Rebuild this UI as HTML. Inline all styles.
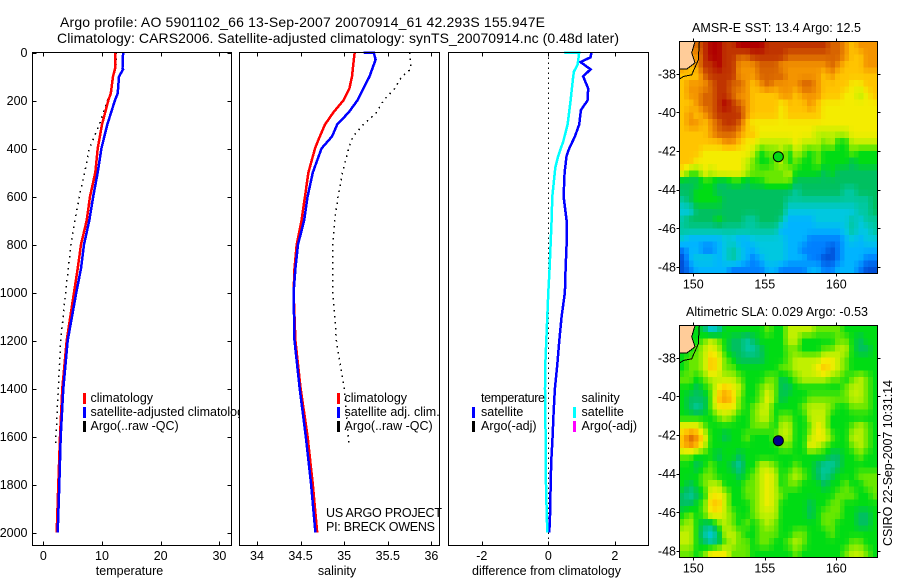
<!DOCTYPE html>
<html>
<head>
<meta charset="utf-8">
<title>Argo profile</title>
<style>
html,body{margin:0;padding:0;background:#fff;width:900px;height:580px;overflow:hidden}
svg{display:block}
text{font-family:"Liberation Sans",sans-serif;font-size:12.5px;fill:#000}
</style>
</head>
<body>
<svg id="chart" xmlns="http://www.w3.org/2000/svg" width="900" height="580" viewBox="0 0 900 580">
  <defs>
    <clipPath id="clip-legend-1"><rect x="32" y="380" width="207" height="60"/></clipPath>
    <clipPath id="clip-map"><rect x="680" y="42" width="198" height="232"/></clipPath>
    <clipPath id="clip-map-2"><rect x="680" y="326" width="198" height="232"/></clipPath>
  </defs>
  <rect x="0" y="0" width="900" height="580" fill="#fff"/>
  <text x="60" y="27" style="font-size:14px" textLength="485" lengthAdjust="spacing">Argo profile: AO 5901102_66 13-Sep-2007 20070914_61 42.293S 155.947E</text>
  <text x="57" y="43" style="font-size:14px" textLength="562" lengthAdjust="spacing">Climatology: CARS2006. Satellite-adjusted climatology: synTS_20070914.nc (0.48d later)</text>

  <g id="profile-layer"></g>
  <g id="map-layer"></g>

  <g>
    <rect x="83" y="393" width="3" height="11" fill="#ff0000"/>
    <rect x="83" y="407" width="3" height="11" fill="#0000ff"/>
    <rect x="83" y="421" width="3" height="11" fill="#000"/>
    <text x="90.5" y="402">climatology</text>
    <text clip-path="url(#clip-legend-1)" x="90.5" y="416">satellite-adjusted climatology</text>
    <text x="90.5" y="430">Argo(..raw -QC)</text>
  </g>
  <g>
    <rect x="337" y="393" width="3" height="11" fill="#ff0000"/>
    <rect x="337" y="407" width="3" height="11" fill="#0000ff"/>
    <rect x="337" y="421" width="3" height="11" fill="#000"/>
    <text x="344.5" y="402">climatology</text>
    <text x="344.5" y="416">satellite adj. clim.</text>
    <text x="344.5" y="430">Argo(..raw -QC)</text>
  </g>
  <g>
    <text x="481" y="402" textLength="64" lengthAdjust="spacing">temperature</text>
    <rect x="472" y="407" width="3" height="11" fill="#0000ff"/>
    <rect x="472" y="421" width="3" height="11" fill="#000"/>
    <text x="481" y="416">satellite</text>
    <text x="481" y="430">Argo(-adj)</text>
    <text x="581.5" y="402">salinity</text>
    <rect x="573" y="407" width="3" height="11" fill="#00ffff"/>
    <rect x="573" y="421" width="3" height="11" fill="#ff00ff"/>
    <text x="581.5" y="416">satellite</text>
    <text x="581.5" y="430">Argo(-adj)</text>
  </g>
  <text x="326" y="517" textLength="116" lengthAdjust="spacing">US ARGO PROJECT</text>
  <text x="326" y="531" textLength="109" lengthAdjust="spacing">PI: BRECK OWENS</text>

  <text x="129.5" y="575" text-anchor="middle">temperature</text>
  <text x="337" y="575" text-anchor="middle">salinity</text>
  <text x="546.5" y="575" text-anchor="middle" textLength="149" lengthAdjust="spacing">difference from climatology</text>

  <text x="692" y="32" textLength="169" lengthAdjust="spacing">AMSR-E SST: 13.4  Argo: 12.5</text>
  <text x="686" y="316" textLength="182" lengthAdjust="spacing">Altimetric SLA: 0.029  Argo: -0.53</text>
  <text transform="translate(892,546) rotate(-90)" textLength="166" lengthAdjust="spacing">CSIRO 22-Sep-2007 10:31:14</text>
</svg>

<script>
// ---------- profile data ----------
const tempDepths = [0,65,70,100,170,200,300,400,500,600,700,800,900,1000,1200,1400,1600,1800,2000];
const tempClimatology = [12.27,12.25,12.2,11.87,11.5,11.07,10.0,9.27,8.86,7.96,7.4,6.42,5.86,5.23,3.98,3.24,2.85,2.56,2.28];
const tempSatellite = [13.6,13.5,13.6,12.9,12.67,12.2,10.9,9.9,9.27,8.5,7.84,6.93,6.42,5.62,4.15,3.4,2.96,2.73,2.45];
const argoTempDepths = [0,50,100,170,200,300,400,500,600,700,800,900,1000,1200,1400,1630];
const argoTemp = [12.4,12.4,11.9,11.5,10.9,9.55,7.84,7.05,6.13,5.4,4.72,4.26,3.8,2.96,2.56,2.1];

const salDepths = [0,30,100,150,200,250,300,350,400,500,600,700,800,900,1000,1200,1400,1600,1800,2000];
const salClimatology = [35.12,35.11,35.09,35.06,34.99,34.875,34.78,34.72,34.665,34.59,34.55,34.51,34.455,34.43,34.42,34.44,34.5,34.58,34.64,34.69];
const salSatDepths = [0,1,30,100,150,200,250,300,350,400,500,600,700,800,900,1000,1200,1400,1600,1800,2000];
const salSatellite = [35.22,35.34,35.36,35.29,35.22,35.15,35.05,34.92,34.86,34.74,34.64,34.58,34.54,34.47,34.44,34.42,34.43,34.49,34.56,34.62,34.67];
const argoSalDepths = [0,40,70,100,150,200,250,300,350,400,500,600,700,800,900,1000,1200,1400,1625];
const argoSal = [35.75,35.76,35.76,35.66,35.58,35.45,35.37,35.22,35.1,35.05,34.98,34.93,34.89,34.87,34.87,34.87,34.91,35.0,35.05];

const diffTempDepths = [0,20,40,70,100,150,200,240,300,350,400,430,500,600,700,800,900,1000,1100,1200,1300,1400,1500,1600,1700,1800,1900,2000];
const diffTempSatellite = [1.3,1.27,0.97,1.27,1.05,1.2,1.18,0.98,0.93,0.8,0.63,0.55,0.49,0.46,0.55,0.55,0.52,0.5,0.4,0.33,0.27,0.2,0.16,0.13,0.09,0.07,0.06,0.03];
const diffSalDepths = [0,1,50,80,100,200,300,370,430,480,600,700,800,900,1000,1100,1200,1300,1400,1500,1600,1700,1800,1900,2000];
const diffSalSatellite = [0.47,0.93,0.88,0.77,0.75,0.67,0.58,0.45,0.3,0.21,0.12,0.1,0.07,0.04,0,-0.03,-0.06,-0.09,-0.1,-0.09,-0.08,-0.08,-0.07,-0.05,-0.03];
const zeroLineDepths = [0,2040];
const zeroLineValues = [0,0];

// ---------- tick labels ----------
const depthTicks = [0,200,400,600,800,1000,1200,1400,1600,1800,2000];
const tempTicks = [0,10,20,30];
const salTicks = [34,34.5,35,35.5,36];
const diffTicks = [-2,0,2];
const lonTicks = [150,155,160];
const latTicks = [-38,-40,-42,-44,-46,-48];

// ---------- map data (colour level per sample, rows north to south) ----------
const sstGrid = [
[11,11,12,13,14,14,13,13,14,14,14,14,13,13,13,13,13,13,13,13,13,12,12,11,10,11,11,11],
[11,11,11,13,14,14,13,13,12,12,13,13,13,13,13,12,12,12,12,12,12,12,12,11,10,10,11,11],
[11,10,11,13,13,14,13,13,11,11,11,12,12,12,11,11,11,11,11,11,11,12,11,10,10,10,11,11],
[10,10,10,12,13,13,13,13,11,11,11,12,12,12,12,11,11,11,11,11,10,11,10,10,10,10,10,10],
[10,11,11,11,12,13,13,12,12,11,10,11,12,11,11,11,11,12,12,11,10,10,10,10,9,9,10,10],
[10,11,11,12,12,13,13,12,11,11,10,10,10,10,11,11,10,11,11,11,10,10,10,9,9,8,9,10],
[10,10,11,12,12,13,14,13,12,11,10,10,10,10,9,10,10,10,11,10,9,9,9,9,9,9,9,9],
[10,11,10,11,12,13,13,13,13,11,10,10,10,10,9,10,10,10,10,10,9,9,9,9,9,9,9,9],
[10,11,11,10,11,12,13,13,12,10,9,9,9,9,9,9,9,9,9,9,9,9,9,9,9,9,9,9],
[10,10,10,10,11,12,12,12,11,10,10,9,9,9,9,9,9,9,9,8,8,8,8,8,9,9,9,9],
[10,10,10,10,10,10,11,11,10,9,9,8,8,8,8,8,9,8,8,8,7,8,6,6,8,8,8,8],
[10,10,10,9,9,9,9,9,9,9,8,6,7,7,8,6,8,7,6,7,6,6,6,6,7,6,6,6],
[10,10,9,9,9,9,9,9,9,8,7,6,6,7,8,6,7,6,6,7,6,6,6,6,5,6,6,6],
[9,7,7,9,8,9,9,9,9,8,7,7,7,7,7,8,6,6,6,6,5,6,5,5,5,5,5,5],
[5,5,5,6,6,5,5,6,6,5,6,6,7,7,7,7,5,5,5,5,5,5,5,5,5,5,5,5],
[5,5,6,6,6,5,5,5,5,5,5,5,5,5,5,5,4,5,5,5,5,5,5,4,4,5,5,5],
[4,5,6,6,6,6,5,5,5,5,5,5,5,5,5,4,4,4,4,4,4,4,4,4,4,4,4,5],
[3,3,5,5,5,5,5,5,5,5,5,5,5,5,5,3,3,3,3,3,3,3,3,3,3,4,4,5],
[4,5,5,5,5,6,5,5,5,4,4,5,5,5,4,2,2,2,2,3,3,3,3,3,4,3,4,4],
[4,4,4,4,4,4,4,4,4,4,4,4,4,4,2,2,2,2,2,2,2,2,2,3,4,3,3,4],
[3,2,2,2,2,2,3,3,2,2,3,3,3,3,3,2,2,2,1,1,1,1,1,2,3,2,3,3],
[1,2,2,1,1,2,3,4,3,2,2,3,3,3,3,2,2,1,1,1,1,0,1,2,2,2,2,2],
[0,2,3,3,3,2,3,4,3,2,1,2,3,3,3,2,2,2,1,1,0,0,1,2,2,2,1,1],
[0,1,2,2,2,2,2,1,1,1,1,1,2,2,1,1,1,1,2,2,1,1,2,2,2,1,0,0]
];
const slaGrid = [
[6,6,6,5,3,4,6,6,6,6,6,6,7,6,6,8,8,8,8,7,7,7,7,6,6,6,6,6],
[6,6,6,7,8,7,6,5,5,4,5,6,6,6,6,8,8,6,6,6,6,6,7,7,6,5,6,6],
[6,6,7,8,9,8,6,5,5,4,4,5,6,6,6,7,7,6,6,6,7,7,8,8,6,5,5,6],
[6,7,7,8,10,9,7,6,5,5,5,5,6,6,6,7,8,8,8,8,9,9,8,7,6,6,6,6],
[6,7,7,8,10,9,7,7,6,6,6,6,6,6,7,7,8,8,8,9,10,9,8,7,6,6,6,6],
[7,7,6,7,8,8,8,8,7,6,6,6,7,7,5,6,7,8,8,8,8,7,7,6,7,8,7,6],
[6,6,5,6,7,9,10,9,8,6,6,7,8,7,5,5,6,6,6,6,6,6,6,7,8,8,7,6],
[6,5,5,5,7,10,11,10,7,6,6,7,9,7,5,6,6,6,7,7,7,7,7,7,8,8,7,6],
[6,5,4,5,7,9,9,9,7,6,7,8,8,6,6,6,6,7,8,8,8,7,6,6,7,7,7,6],
[6,6,6,6,6,7,8,7,6,6,7,8,8,6,7,7,6,6,8,8,8,6,6,6,6,6,6,6],
[9,9,9,7,6,6,6,6,6,6,7,7,7,6,8,8,6,6,7,9,8,6,6,6,7,8,7,6],
[10,12,11,9,6,6,5,6,6,7,6,6,6,7,8,8,6,6,8,9,9,7,6,6,8,8,7,6],
[10,11,10,8,6,6,6,6,6,6,6,6,6,6,7,7,6,6,9,8,7,6,6,6,7,8,7,6],
[7,7,6,6,6,5,6,6,5,6,6,6,6,6,6,6,6,6,6,6,6,5,5,6,6,7,6,6],
[6,6,5,6,7,6,6,5,4,6,6,8,8,7,6,6,7,6,6,5,4,4,5,6,6,6,6,6],
[6,6,6,7,7,6,6,6,5,6,7,8,9,8,6,7,8,7,6,5,4,5,6,6,6,7,7,7],
[6,5,6,7,8,8,6,6,6,7,7,8,9,8,6,7,7,6,6,6,5,6,6,7,6,6,7,7],
[5,4,5,6,9,9,8,6,6,7,7,8,9,8,7,6,6,6,6,6,6,6,7,7,7,6,6,7],
[5,5,6,7,10,10,8,6,6,6,7,8,9,8,6,6,6,6,5,6,6,7,7,6,6,6,6,6],
[6,7,6,7,9,9,8,7,6,6,7,8,8,8,6,6,6,6,5,6,7,7,7,6,6,5,5,6],
[7,8,6,5,5,7,8,7,6,7,6,7,8,7,6,6,6,6,6,6,7,7,6,6,6,5,5,6],
[8,8,6,4,3,5,8,8,7,6,6,7,7,7,6,6,7,7,6,6,6,7,6,6,6,6,6,6],
[8,8,6,5,4,5,7,8,7,7,6,7,7,6,6,7,8,7,6,6,6,6,6,6,7,7,6,6],
[7,7,6,7,9,9,9,7,7,7,6,6,6,6,6,6,7,6,6,6,6,6,6,7,8,8,7,6]
];
const levelColors = [[0,80,216],[0,128,255],[0,180,255],[0,200,224],[0,200,160],[0,192,96],[0,220,20],[104,232,0],[192,240,0],[244,236,0],[255,196,0],[244,148,0],[216,100,0],[192,52,0],[176,0,0]];
const landLon = [149.03,150.12,149.89,150.12,149.54,149.03];
const landLat = [-36.33,-36.33,-36.91,-37.43,-37.76,-37.76];
const coastLon = [150.42,150.35,149.89,149.3,149.07];
const coastLat = [-36.33,-37.28,-38.05,-38.14,-38.26];
const floatLon = [155.947];
const floatLat = [-42.293];

// ---------- axis functions ----------
const NS = 'http://www.w3.org/2000/svg';
const depthY = d => 52.5 + 0.24 * d;
const tempX = v => 43.3 + 5.87 * v;
const salX = v => 257 + 87.2 * (v - 34);
const diffX = v => 548.3 + 33.25 * v;
const lonX = lon => 693.3 + 14.3 * (lon - 150);
const mapLatY = (top) => lat => top + 32.3 - 19.31 * (lat + 38);

function make(parent, tag, attrs, txt) {
  const el = document.createElementNS(NS, tag);
  for (const k in attrs) el.setAttribute(k, attrs[k]);
  if (txt !== undefined) el.textContent = txt;
  parent.appendChild(el);
  return el;
}

const profileLayer = document.getElementById('profile-layer');
const mapLayer = document.getElementById('map-layer');

function drawSeries(name, depths, values, xFn, color, width, dash) {
  const pts = depths.map((d, i) => xFn(values[i]).toFixed(1) + ',' + depthY(d).toFixed(1)).join(' ');
  const attrs = {points: pts, fill: 'none', stroke: color, 'stroke-width': width, 'shape-rendering': 'crispEdges'};
  if (dash) attrs['stroke-dasharray'] = dash;
  const el = make(profileLayer, 'polyline', attrs);
  
  
}

function drawProfileFrame(left, right, xTicks, xFn, withDepth) {
  const top = 52.5, bottom = 545.5;
  const frame = make(profileLayer, 'rect', {x: left, y: top, width: right - left, height: bottom - top, fill: 'none', stroke: '#000', 'stroke-width': 1, 'shape-rendering': 'crispEdges'});
  
  
  xTicks.forEach(v => {
    const x = Math.round(xFn(v)) + 0.5;
    [[top, top + 4], [bottom, bottom - 4]].forEach(p => {
      const t = make(profileLayer, 'line', {x1: x, x2: x, y1: p[0], y2: p[1], stroke: '#000', 'shape-rendering': 'crispEdges'});
      
      
    });
    const lab = make(profileLayer, 'text', {x: xFn(v), y: 560, 'text-anchor': 'middle'}, String(v));
    
    
  });
  if (withDepth) {
    depthTicks.forEach(d => {
      const y = Math.round(depthY(d)) + 0.5;
      [[left, left + 4], [right, right - 4]].forEach(p => {
        const t = make(profileLayer, 'line', {x1: p[0], x2: p[1], y1: y, y2: y, stroke: '#000', 'shape-rendering': 'crispEdges'});
        
        
      });
      const lab = make(profileLayer, 'text', {x: 27.5, y: depthY(d) + 4.5, 'text-anchor': 'end'}, String(d));
      
      
    });
  }
}

// temperature panel
drawSeries('argo-temperature-line', argoTempDepths, argoTemp, tempX, '#000', 1.5, '1.5 4.5');
drawSeries('climatology-temperature-line', tempDepths, tempClimatology, tempX, '#ff0000', 2.5);
drawSeries('satellite-temperature-line', tempDepths, tempSatellite, tempX, '#0000ff', 2.5);
drawProfileFrame(32.5, 231.5, tempTicks, tempX, true);

// salinity panel
drawSeries('argo-salinity-line', argoSalDepths, argoSal, salX, '#000', 1.5, '1.5 4.5');
drawSeries('climatology-salinity-line', salDepths, salClimatology, salX, '#ff0000', 2.5);
drawSeries('satellite-salinity-line', salSatDepths, salSatellite, salX, '#0000ff', 2.5);
drawProfileFrame(239.5, 439.5, salTicks, salX, false);

// difference panel
drawSeries('zero-reference-line', zeroLineDepths, zeroLineValues, diffX, '#000', 1, '1.5 3.5');
drawSeries('satellite-temperature-difference-line', diffTempDepths, diffTempSatellite, diffX, '#0000ff', 2.5);
drawSeries('satellite-salinity-difference-line', diffSalDepths, diffSalSatellite, diffX, '#00ffff', 2.5);
drawProfileFrame(448.5, 648.5, diffTicks, diffX, false);

// Smooth display sampling of a map grid, matching the source's finer pixel size.
function sampleGrid(grid, u, v) {
  const rows = grid.length, cols = grid[0].length;
  const x = Math.min(cols - 1, Math.max(0, u)), y = Math.min(rows - 1, Math.max(0, v));
  const x0 = Math.floor(x), y0 = Math.floor(y);
  const x1 = Math.min(cols - 1, x0 + 1), y1 = Math.min(rows - 1, y0 + 1);
  const fx = x - x0, fy = y - y0;
  return (grid[y0][x0] * (1 - fx) + grid[y0][x1] * fx) * (1 - fy) + (grid[y1][x0] * (1 - fx) + grid[y1][x1] * fx) * fy;
}
function levelColor(level) {
  const l = Math.min(levelColors.length - 1, Math.max(0, level));
  const i = Math.min(levelColors.length - 2, Math.floor(l));
  const f = l - i;
  const a = levelColors[i], b = levelColors[i + 1];
  return 'rgb(' + [0, 1, 2].map(k => Math.round(a[k] + (b[k] - a[k]) * f)).join(',') + ')';
}

function drawMap(prefix, grid, top, clipId, markerFill, markerStroke) {
  const left = 679.5, width = 198, height = 232;
  const latY = mapLatY(top);
  const rows = grid.length, cols = grid[0].length;
  const outCols = cols * 3 / 2, outRows = rows * 3 / 2;
  const cw = width / outCols, ch = height / outRows;
  const g = make(mapLayer, 'g', {'clip-path': 'url(#' + clipId + ')', 'shape-rendering': 'crispEdges'});
  
  
  for (let r = 0; r < outRows; r++) {
    for (let c = 0; c < outCols; c++) {
      const level = sampleGrid(grid, (c + 0.5) * cols / outCols - 0.5, (r + 0.5) * rows / outRows - 0.5);
      const cell = make(g, 'rect', {x: left + c * cw, y: top + r * ch, width: cw + 0.6, height: ch + 0.6, fill: levelColor(level)});
      
      
    }
  }
  const land = make(g, 'polygon', {points: landLon.map((v, i) => lonX(v).toFixed(1) + ',' + latY(landLat[i]).toFixed(1)).join(' '), fill: '#ffcc99', stroke: '#000', 'stroke-width': 1});
  
  
  const coast = make(g, 'polyline', {points: coastLon.map((v, i) => lonX(v).toFixed(1) + ',' + latY(coastLat[i]).toFixed(1)).join(' '), fill: 'none', stroke: '#000', 'stroke-width': 1});
  
  
  const frame = make(mapLayer, 'rect', {x: left, y: top, width: width, height: height, fill: 'none', stroke: '#000', 'shape-rendering': 'crispEdges'});
  
  
  lonTicks.forEach(v => {
    const x = Math.round(lonX(v)) + 0.5;
    [[top, top - 3], [top + height, top + height + 3]].forEach(p => {
      const t = make(mapLayer, 'line', {x1: x, x2: x, y1: p[0], y2: p[1], stroke: '#000', 'shape-rendering': 'crispEdges'});
      
      
    });
    const lab = make(mapLayer, 'text', {x: lonX(v), y: top + height + 15, 'text-anchor': 'middle'}, String(v));
    
    
  });
  latTicks.forEach(v => {
    const y = Math.round(latY(v)) + 0.5;
    [[left, left - 3], [left + width, left + width + 3]].forEach(p => {
      const t = make(mapLayer, 'line', {x1: p[0], x2: p[1], y1: y, y2: y, stroke: '#000', 'shape-rendering': 'crispEdges'});
      
      
    });
    const lab = make(mapLayer, 'text', {x: 676, y: latY(v) + 4.5, 'text-anchor': 'end'}, String(v));
    
    
  });
  const marker = make(mapLayer, 'circle', {cx: lonX(floatLon[0]), cy: latY(floatLat[0]), r: 5, fill: markerFill, stroke: markerStroke, 'stroke-width': 1});
  
  
}

drawMap('sst-map', sstGrid, 41.5, 'clip-map', '#00d814', '#000');
drawMap('sla-map', slaGrid, 325.5, 'clip-map-2', '#00008b', '#000');
</script>
</body>
</html>
